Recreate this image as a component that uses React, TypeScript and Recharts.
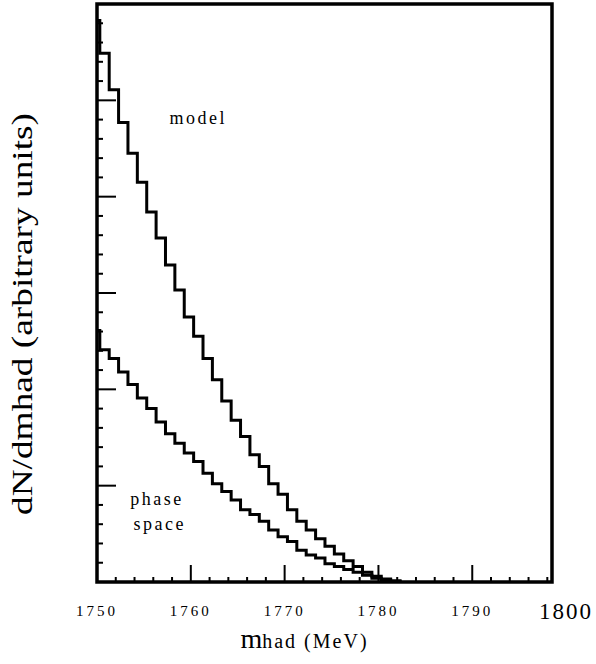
import { LineChart, Line, XAxis, YAxis, ReferenceArea, ReferenceDot, Label } from 'recharts';

// lower edge of each histogram bin (MeV); the first one is the narrow threshold sliver
const mhadBins = [
  1750, 1750.3, 1751.3, 1752.3, 1753.3, 1754.3, 1755.3, 1756.3, 1757.3, 1758.3,
  1759.3, 1760.3, 1761.3, 1762.3, 1763.3, 1764.3, 1765.3, 1766.3, 1767.3, 1768.3,
  1769.3, 1770.3, 1771.3, 1772.3, 1773.3, 1774.3, 1775.3, 1776.3, 1777.3, 1778.3,
  1779.3, 1780.3, 1781.3, 1782.3,
];

const modelCounts = [
  5.83, 5.49, 5.11, 4.77, 4.45, 4.15, 3.84, 3.57, 3.29, 3.03,
  2.75, 2.55, 2.32, 2.1, 1.88, 1.68, 1.51, 1.32, 1.2, 1.02,
  0.91, 0.75, 0.63, 0.54, 0.45, 0.37, 0.29, 0.22, 0.16, 0.1,
  0.06, 0.03, 0.01, 0,
];

const phaseSpaceCounts = [
  2.61, 2.41, 2.32, 2.18, 2.05, 1.91, 1.8, 1.66, 1.54, 1.44,
  1.34, 1.25, 1.13, 1.02, 0.94, 0.85, 0.75, 0.7, 0.63, 0.54,
  0.47, 0.42, 0.33, 0.28, 0.25, 0.19, 0.16, 0.13, 0.1, 0.07,
  0.04, 0.02, 0.01, 0,
];

const xLabels = [1750, 1760, 1770, 1780, 1790, 1800];
const X_MIN = 1750;
const X_MAX = 1798.5;
const Y_MAX = 6;

// minor ticks every 2 MeV on x, every 0.2 on y
const xTicks = [...Array.from({ length: 25 }, (_, i) => X_MIN + i * 2), 1800];
const yTicks = Array.from({ length: 31 }, (_, i) => Math.round(i * 2) / 10);

const modelData = mhadBins.map((m, i) => ({ m, v: modelCounts[i] }));
const phaseData = mhadBins.map((m, i) => ({ m, v: phaseSpaceCounts[i] }));

const FONT = "'Liberation Serif', 'Times New Roman', Times, 'DejaVu Serif', serif";

const XTick = (props: any) => {
  const { x, y, payload } = props;
  const v = payload.value;
  const major = v % 10 === 0;
  const labelled = xLabels.includes(v);
  const inside = v <= X_MAX;
  const big = v === 1800;
  return (
    <g>
      {inside && (
        <line x1={x} y1={y} x2={x} y2={y - (major ? 17 : 5)} stroke="#000" strokeWidth={2} />
      )}
      {labelled && (
        <text
          x={x}
          y={y + (big ? 37 : 34)}
          textAnchor="middle"
          fontFamily={FONT}
          fontSize={big ? 23 : 15}
          letterSpacing={big ? 2 : 3}
          fill="#000"
        >
          {v}
        </text>
      )}
    </g>
  );
};

const YTick = (props: any) => {
  const { x, y, payload } = props;
  const major = Math.abs(payload.value - Math.round(payload.value)) < 1e-6;
  return <line x1={x} y1={y} x2={x + (major ? 19 : 6)} y2={y} stroke="#000" strokeWidth={2} />;
};

const YTitle = (props: any) => {
  const vb = props.viewBox;
  const cx = vb.x + 22;
  const cy = vb.y + vb.height / 2 + 21;
  return (
    <text
      x={cx}
      y={cy}
      transform={`rotate(-90, ${cx}, ${cy})`}
      textAnchor="middle"
      dominantBaseline="central"
      textLength={402}
      lengthAdjust="spacingAndGlyphs"
      fontFamily={FONT}
      fontSize={29}
      fill="#000"
    >
      dN/dmhad (arbitrary units)
    </text>
  );
};

const XTitle = (props: any) => {
  const vb = props.viewBox;
  return (
    <text
      x={vb.x + vb.width / 2 - 20}
      y={vb.y + 66}
      textAnchor="middle"
      fontFamily={FONT}
      fill="#000"
    >
      <tspan fontSize={28}>m</tspan>
      <tspan fontSize={20} letterSpacing={2}>had (MeV)</tspan>
    </text>
  );
};

const noteStyle = { fontFamily: FONT, fontSize: 18, letterSpacing: 2.5, fill: '#000' };

export default function App() {
  return (
    <div style={{ position: 'absolute', left: 0, top: 0, background: '#fff', fontFamily: FONT }}>
      <LineChart width={596} height={664} margin={{ top: 4, right: 44, bottom: 0, left: 0 }}>
        <XAxis
          type="number"
          dataKey="m"
          domain={[X_MIN, X_MAX]}
          allowDataOverflow
          ticks={xTicks}
          interval={0}
          tickSize={0}
          tickMargin={0}
          tickLine={false}
          axisLine={false}
          height={82}
          tick={(p: any) => <XTick {...p} />}
        >
          <Label content={(p: any) => <XTitle {...p} />} />
        </XAxis>
        <YAxis
          type="number"
          domain={[0, Y_MAX]}
          allowDataOverflow
          ticks={yTicks}
          interval={0}
          tickSize={0}
          tickMargin={0}
          tickLine={false}
          axisLine={false}
          width={97}
          tick={(p: any) => <YTick {...p} />}
        >
          <Label content={(p: any) => <YTitle {...p} />} />
        </YAxis>
        <ReferenceArea
          x1={X_MIN}
          x2={X_MAX}
          y1={0}
          y2={Y_MAX}
          fill="none"
          fillOpacity={0}
          stroke="#000"
          strokeWidth={3.5}
        />
        <Line
          data={modelData}
          dataKey="v"
          type="stepAfter"
          stroke="#000"
          strokeWidth={3}
          dot={false}
          isAnimationActive={false}
        />
        <Line
          data={phaseData}
          dataKey="v"
          type="stepAfter"
          stroke="#000"
          strokeWidth={3}
          dot={false}
          isAnimationActive={false}
        />
        <ReferenceDot x={1760.8} y={4.82} r={0} label={{ value: 'model', position: 'center', style: noteStyle }} />
        <ReferenceDot x={1756.4} y={0.87} r={0} label={{ value: 'phase', position: 'center', style: noteStyle }} />
        <ReferenceDot x={1756.7} y={0.61} r={0} label={{ value: 'space', position: 'center', style: noteStyle }} />
      </LineChart>
    </div>
  );
}
